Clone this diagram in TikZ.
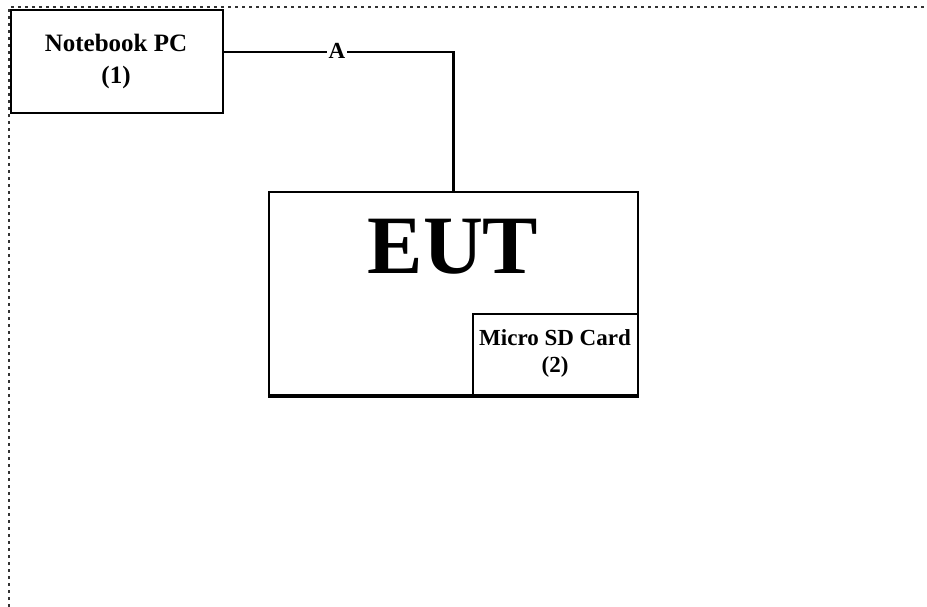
\documentclass[tikz,border=0pt]{standalone}
\usepackage{fontspec}
\setmainfont{Liberation Serif}
\tikzset{
  boxline/.style={draw=black, line width=2.2pt},
  lbl/.style={font=\bfseries\fontsize{25}{32}\selectfont, align=center, inner sep=0pt},
  sdlbl/.style={font=\bfseries\fontsize{23}{27}\selectfont, align=center, inner sep=0pt},
  border/.style={draw=black!80, line width=2.6pt, dash pattern=on 2.6pt off 4.4pt},
}
\begin{document}
\begin{tikzpicture}[x=1pt,y=-1pt]
\useasboundingbox (0,0) rectangle (927,607);
% dotted frame
\draw[border] (9,607) -- (9,7) -- (927,7);
% Notebook PC
\node[boxline, fill=white, minimum width=212pt, minimum height=103pt, inner sep=0pt] (nb) at (117,61.5) {};
\node[lbl] (nbt) at (116,61) {Notebook PC\\(1)};
% EUT
\node[boxline, minimum width=369pt, minimum height=203pt, inner sep=0pt] (eut) at (453.5,293.5) {};
\draw[black, line width=3.2pt] (eut.south west) -- (eut.south east);
\node[font=\bfseries\fontsize{83}{83}\selectfont, inner sep=0pt, anchor=base] (eutt) at (453,273) {EUT};
% Micro SD card
\node[boxline, minimum width=165pt, minimum height=81pt, inner sep=0pt, anchor=south east] (sd) at (eut.south east) {};
\node[sdlbl] (sdt) at (555,353) {Micro SD Card\\(2)};
% connector A
\coordinate (lineY) at (0,52);
\coordinate (nbport) at (nb.east |- lineY);
\coordinate (bend) at (eut.north |- lineY);
\draw[black, line width=2.2pt] (nbport) -- (bend) -- (eut.north);
\node[fill=white, font=\bfseries\fontsize{23}{23}\selectfont, inner sep=1.5pt] (a) at (337,51) {A};
\end{tikzpicture}
\end{document}
